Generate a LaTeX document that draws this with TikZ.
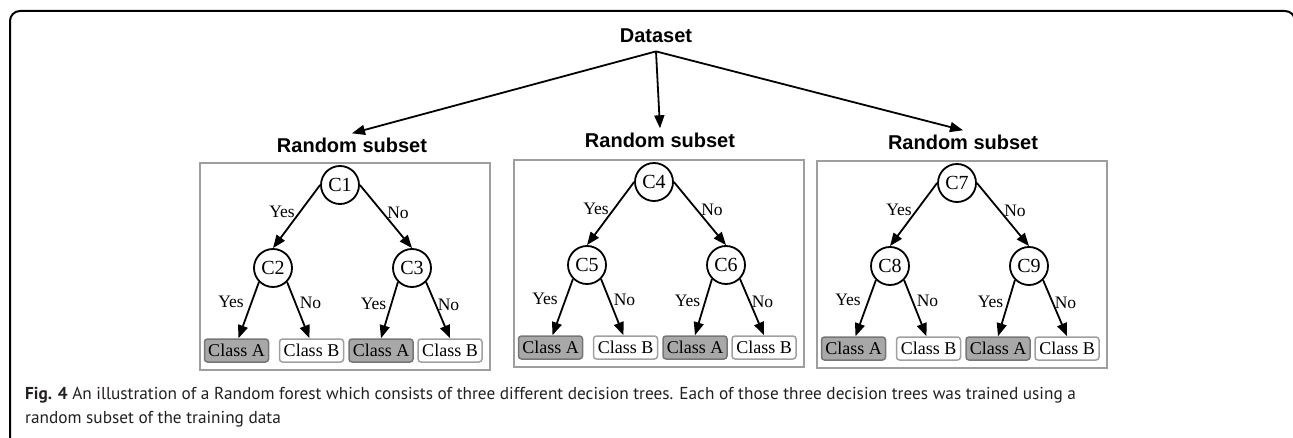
\documentclass[tikz,border=0pt]{standalone}
\usepackage{fontspec}
\setmainfont{Liberation Serif}
\newfontfamily\headfont{Liberation Sans}
\newfontfamily\capfont{PT Sans}
\usetikzlibrary{arrows.meta}

\definecolor{boxgray}{RGB}{158,158,158}
\definecolor{leafgray}{RGB}{168,168,168}
\definecolor{leafedge}{RGB}{118,118,118}
\definecolor{leafbedge}{RGB}{160,160,160}
\definecolor{captext}{RGB}{35,31,32}

\tikzset{
  frame/.style={draw=black, line width=2pt, rounded corners=10pt},
  treebox/.style={draw=boxgray, line width=2pt, inner sep=0pt},
  head/.style={font=\headfont\bfseries\fontsize{20}{20}\selectfont, inner sep=5pt},
  cnode/.style={circle, draw=black, line width=1.8pt, minimum size=38pt,
    inner sep=0pt, fill=white, font=\fontsize{20}{20}\selectfont},
  leafbase/.style={rectangle, rounded corners=3pt, line width=1.5pt,
    minimum width=64pt, minimum height=23pt, inner sep=0pt,
    font=\fontsize{18}{18}\selectfont},
  leafA/.style={leafbase, draw=leafedge, fill=leafgray},
  leafB/.style={leafbase, draw=leafbedge, fill=white},
  lab/.style={inner sep=0pt, font=\fontsize{17.5}{17.5}\selectfont},
  edge/.style={line width=1.8pt, -{Triangle[length=13pt,width=10pt]}},
  caption/.style={anchor=base west, inner sep=0pt, text=captext,
    font=\capfont\fontsize{17.25}{17.25}\selectfont}
}

\begin{document}
\begin{tikzpicture}[x=1pt,y=-1pt]
\useasboundingbox (0,0) rectangle (1293,438);

% outer frame of the figure
\draw[frame] (10,11) rectangle (1295,470);

% root
\node[head, anchor=base, inner sep=8pt] (ds) at (656,43) {Dataset};

% three decision trees, each in its own box
\foreach \t/\ox/\oy/\a/\b/\c/\dx/\ly in
  {1/199/162/1/2/3/8/9, 2/513/159/4/5/6/2/11, 3/816/160/7/8/9/2/10} {
  \begin{scope}[shift={(\ox,\oy)}]
    \node[treebox, anchor=north west, minimum width=290pt,
      minimum height=207pt] (box\t) at (0,0) {};
    \node[head, anchor=base] (rs\t) at (145+\dx,-\ly) {Random subset};
    \node[cnode] (c\a) at (141,23) {C\a};
    \node[cnode] (c\b) at (74,106) {C\b};
    \node[cnode] (c\c) at (213,106) {C\c};
    \node[leafA] (la\b) at (37.5,188.5) {Class A};
    \node[leafB] (lb\b) at (112.5,188.5) {Class B};
    \node[leafA] (la\c) at (182,188.5) {Class A};
    \node[leafB] (lb\c) at (251,188.5) {Class B};
    \draw[edge] (c\a.west) -- (c\b.north);
    \draw[edge] (c\a.east) -- (c\c.north);
    \draw[edge] (c\b.south west) -- ([xshift=2pt]la\b.north);
    \draw[edge] (c\b.south east) -- ([xshift=-2pt]lb\b.north);
    \draw[edge] (c\c.south west) -- (la\c.north);
    \draw[edge] (c\c.south east) -- (lb\c.north);
    \node[lab] (ya\t) at (83,50) {Yes};
    \node[lab] (na\t) at (199,51) {No};
    \node[lab] (yb\t) at (32,140) {Yes};
    \node[lab] (nb\t) at (111.5,141) {No};
    \node[lab] (yc\t) at (174.5,142) {Yes};
    \node[lab] (nc\t) at (249.5,142.5) {No};
  \end{scope}
}

% root to subsets
\draw[edge] (ds.south) -- (rs1.north);
\draw[edge] (ds.south) -- (rs2.north);
\draw[edge] (ds.south) -- (rs3.north);

% caption
\node[caption] (cap1) at (25,399) {\textbf{Fig. 4} An illustration of a Random forest which consists of three different decision trees. Each of those three decision trees was trained using a};
\node[caption] (cap2) at (25,423) {random subset of the training data};
\end{tikzpicture}
\end{document}
